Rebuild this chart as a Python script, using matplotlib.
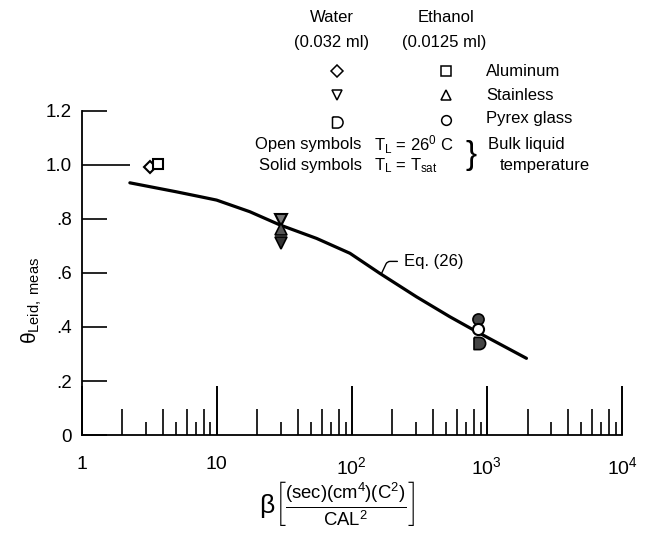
import numpy as np
import matplotlib
matplotlib.use('Agg')
import matplotlib.pyplot as plt
from matplotlib.path import Path
from matplotlib.lines import Line2D
from matplotlib.ticker import FixedLocator, FixedFormatter, NullLocator, NullFormatter

FONT = ['Liberation Sans', 'DejaVu Sans']
plt.rcParams['font.family'] = FONT
plt.rcParams['mathtext.fontset'] = 'custom'
plt.rcParams['mathtext.rm'] = 'Liberation Sans'
plt.rcParams['mathtext.it'] = 'Liberation Sans'
plt.rcParams['mathtext.bf'] = 'Liberation Sans'

# ---------------- data ----------------
curve_x = [2.28, 5, 7.5, 10, 17.6, 29.4, 55, 97, 161, 301, 532, 838, 1963]
curve_y = [0.934, 0.901, 0.883, 0.870, 0.827, 0.778, 0.728, 0.673, 0.599, 0.512, 0.438, 0.383, 0.284]

water_al_x, water_al_y = [3.21], [0.994]          # open diamond
eth_al_x, eth_al_y = [3.70], [1.004]              # open square
water_ss_open_x, water_ss_open_y = [29.7], [0.795]   # open down triangle
eth_ss_solid_x, eth_ss_solid_y = [29.7], [0.762]     # solid up triangle
water_ss_solid_x, water_ss_solid_y = [29.7], [0.710] # solid down triangle
eth_py_solid_x, eth_py_solid_y = [861], [0.428]      # solid circle
eth_py_open_x, eth_py_open_y = [861], [0.393]        # open circle
water_py_solid_x, water_py_solid_y = [870], [0.340]  # solid D

x_major = [1, 10, 100, 1000, 10000]
x_major_labels = ['1', '10', '$10^2$', '$10^3$', '$10^4$']
decades = [1, 10, 100, 1000]
even_subs = [2, 4, 6, 8]
odd_subs = [3, 5, 7, 9]
y_ticks = [0, 0.2, 0.4, 0.6, 0.8, 1.0, 1.2]
y_labels = ['0', '.2', '.4', '.6', '.8', '1.0', '1.2']

# ---------------- D-shaped marker ----------------
arc = Path.arc(-90, 90)
av = arc.vertices * 0.5
verts = [(-0.45, 0.5), (-0.45, -0.5), (0.0, -0.5)] + [tuple(v) for v in av[1:]] + [(-0.45, 0.5)]
codes = [Path.MOVETO, Path.LINETO, Path.LINETO] + list(arc.codes[1:]) + [Path.LINETO]
D_MARK = Path(verts, codes)

W, H = 652, 535
fig = plt.figure(figsize=(W / 100, H / 100), dpi=100)
L, R, T, B = 81.5, 622.0, 111.0, 435.0
ax = fig.add_axes([L / W, 1 - B / H, (R - L) / W, (B - T) / H])
ax.set_xscale('log')
ax.set_xlim(1, 1e4)
ax.set_ylim(0, 1.2)
for s in ['top', 'right']:
    ax.spines[s].set_visible(False)
for s in ['left', 'bottom']:
    ax.spines[s].set_linewidth(1.3)

ax.xaxis.set_major_locator(FixedLocator(x_major))
ax.xaxis.set_major_formatter(FixedFormatter(x_major_labels))
ax.xaxis.set_minor_locator(FixedLocator([d * s for d in decades for s in even_subs]))
ax.xaxis.set_minor_formatter(NullFormatter())
ax.tick_params(axis='x', which='major', direction='in', length=35, width=1.4,
               labelsize=14, pad=15, top=False)
ax.tick_params(axis='x', which='minor', direction='in', length=18.5, width=1.2, top=False)

ax.yaxis.set_major_locator(FixedLocator(y_ticks))
ax.yaxis.set_major_formatter(FixedFormatter(y_labels))
ax.yaxis.set_minor_locator(NullLocator())
ax.tick_params(axis='y', which='major', direction='in', length=18, width=1.2,
               labelsize=13.5, pad=7, right=False)
ax.yaxis.get_major_ticks()[5].tick1line.set_markersize(34.5)

ax2 = ax.twiny()
ax2.set_xscale('log')
ax2.set_xlim(1, 1e4)
for s in ax2.spines.values():
    s.set_visible(False)
ax2.xaxis.set_ticks_position('bottom')
ax2.xaxis.set_major_locator(FixedLocator([d * s for d in decades for s in odd_subs]))
ax2.xaxis.set_major_formatter(NullFormatter())
ax2.xaxis.set_minor_locator(NullLocator())
ax2.tick_params(axis='x', which='major', direction='in', length=9.5, width=1.2,
                labelbottom=False, labeltop=False, top=False)

# curve
ax.plot(curve_x, curve_y, color='black', lw=2.3, solid_capstyle='round')

ms = 8
ax.plot(water_al_x, water_al_y, 'D', ms=ms * 0.8, mfc='white', mec='black', mew=1.5)
ax.plot(eth_al_x, eth_al_y, 's', ms=ms * 0.85, mfc='white', mec='black', mew=1.5)
ax.plot(water_ss_open_x, water_ss_open_y, 'v', ms=ms, mfc='#777777', mec='black', mew=1.5)
ax.plot(eth_ss_solid_x, eth_ss_solid_y, '^', ms=ms, mfc='#555555', mec='black', mew=1.2)
ax.plot(water_ss_solid_x, water_ss_solid_y, 'v', ms=ms, mfc='#333333', mec='black', mew=1.2)
ax.plot(eth_py_solid_x, eth_py_solid_y, 'o', ms=ms, mfc='#444444', mec='black', mew=1.2)
ax.plot(eth_py_open_x, eth_py_open_y, 'o', ms=ms, mfc='white', mec='black', mew=1.5)
ax.plot(water_py_solid_x, water_py_solid_y, marker=D_MARK, ls='none', ms=ms * 1.1,
        mfc='#444444', mec='black', mew=1.2)

ax.annotate('Eq. (26)', xy=(165, 0.595), xytext=(245, 0.643),
            fontsize=12, va='center', ha='left',
            arrowprops=dict(arrowstyle='-', lw=1.0, color='black',
                            connectionstyle='angle,angleA=0,angleB=65,rad=3',
                            shrinkA=3, shrinkB=1))

ax.set_ylabel(r'$\theta_{\mathrm{Leid,\ meas}}$', fontsize=15)
ax.set_xlabel(r'$\beta\left[\frac{(\mathrm{sec})(\mathrm{cm}^4)(\mathrm{C}^2)}{\mathrm{CAL}^2}\right]$',
              fontsize=19)
ax.xaxis.set_label_coords((337 - L) / (R - L), -(479 - B) / (B - T), transform=ax.transAxes)
ax.yaxis.set_label_coords(-(L - 44) / (R - L), (B - 300) / (B - T), transform=ax.transAxes)


def fx(px):
    return px / W


def fy(py):
    return 1 - py / H


def ftext(px, py, s, ha='left', size=12, **kw):
    fig.text(fx(px), fy(py), s, ha=ha, va='center', fontsize=size, **kw)


ftext(332, 18, 'Water', ha='center')
ftext(332, 43, '(0.032 ml)', ha='center')
ftext(446, 18, 'Ethanol', ha='center')
ftext(444, 43, '(0.0125 ml)', ha='center')
ftext(486, 71, 'Aluminum')
ftext(486, 95, 'Stainless')
ftext(486, 119, 'Pyrex glass')
ftext(255, 145, 'Open symbols')
ftext(259, 166, 'Solid symbols')
ftext(374, 145, r'$T_L$ = 26$^0$ C')
ftext(374, 166, r'$T_L$ = $T_{sat}$')
ftext(466, 156, '}', size=24)
ftext(488, 145, 'Bulk liquid')
ftext(500, 166, 'temperature')


def fmark(px, py, m, size=7, fc='white'):
    fig.add_artist(Line2D([fx(px)], [fy(py)], marker=m, ls='none', ms=size,
                          mfc=fc, mec='black', mew=1.1, transform=fig.transFigure))


fmark(337, 71, 'D', 6)
fmark(446, 71, 's', 6.5)
fmark(337, 95, 'v', 7)
fmark(446, 95, '^', 7)
fmark(337, 122, D_MARK, 8)
fmark(446, 120, 'o', 7)

fig.savefig('out.png', dpi=100)
